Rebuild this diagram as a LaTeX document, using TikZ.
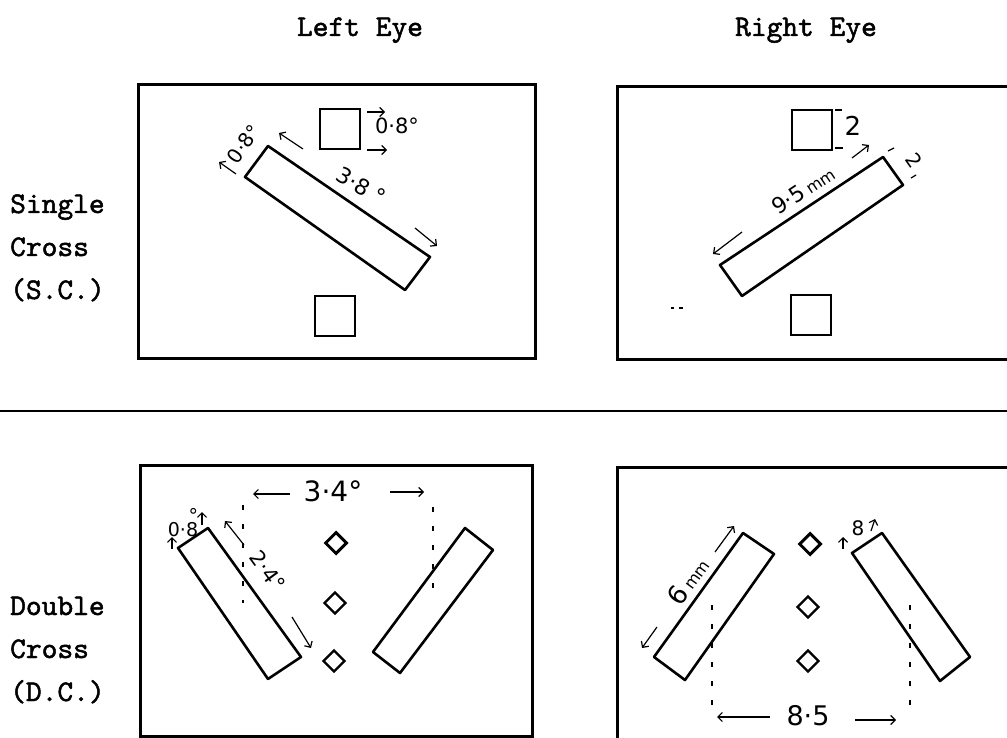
\documentclass[tikz,border=0pt]{standalone}
\usepackage{fontspec}
\newfontfamily\hand{DejaVu Sans}
\newfontfamily\typew{lmmono10-regular.otf}[FakeBold=1.6]
\usetikzlibrary{arrows.meta,shapes.geometric}
\begin{document}
\begin{tikzpicture}[x=1pt,y=-1pt,
  frame/.style={line width=3pt},
  shp/.style={line width=2.6pt,line join=round},
  sq/.style={draw,line width=2.8pt,rectangle,inner sep=0,minimum size=40pt},
  dmd/.style={draw,line width=2.4pt,diamond,inner sep=0,minimum size=22pt},
  dim/.style={line width=1.2pt,-{Straight Barb[length=4.5pt,width=9pt]}},
  tick/.style={line width=1.2pt},
  guide/.style={line width=1.1pt,dash pattern=on 5pt off 14pt},
  hw/.style={font=\hand\fontsize{#1}{#1}\selectfont,inner sep=0},
  tw/.style={font=\typew\fontsize{30}{30}\selectfont,inner sep=0}]
\useasboundingbox (0,0) rectangle (1007,738);

% headings
\node[tw,anchor=base] (hl) at (360,36) {Left Eye};
\node[tw,anchor=base] (hr) at (806,36) {Right Eye};
\node[tw,anchor=base west] (s1) at (10,213) {Single};
\node[tw,anchor=base west] (s2) at (10,256) {Cross};
\node[tw,anchor=base west] (s3) at (10,299) {(S.C.)};
\node[tw,anchor=base west] (d1) at (10,615) {Double};
\node[tw,anchor=base west] (d2) at (10,658) {Cross};
\node[tw,anchor=base west] (d3) at (10,701) {(D.C.)};

% separator
\draw[line width=2.2pt] (0,411) -- (1007,411);

% ---------- top-left panel
\draw[frame] (138,85) rectangle (535,358);
\node[sq] (tlsq1) at (340,129) {};
\node[sq] (tlsq2) at (335,316) {};
\coordinate (ta) at (268,146); \coordinate (tb) at (430,257);
\coordinate (tc) at (405,290); \coordinate (td) at (245,177);
\draw[shp] (ta)--(tb)--(tc)--(td)--cycle;
\coordinate (a1s) at (367,112); \coordinate (a1e) at (385,112);
\coordinate (a2s) at (367,150); \coordinate (a2e) at (387,150);
\draw[dim] (a1s)--(a1e); \draw[dim] (a2s)--(a2e);
\node[hw=21] (tl08) at (397,126) {0·8°};
\coordinate (a3s) at (303,149); \coordinate (a3e) at (279,133);
\draw[dim] (a3s)--(a3e);
\coordinate (a4s) at (415,228); \coordinate (a4e) at (437,246);
\draw[dim] (a4s)--(a4e);
\node[hw=22,rotate=-30] (tl38) at (361,186) {3·8 °};
\node[hw=20,rotate=55] (tlw) at (244,144) {0·8°};
\coordinate (a5s) at (236,174); \coordinate (a5e) at (219,162);
\draw[dim] (a5s)--(a5e);

% ---------- top-right panel
\draw[frame] (1012,87) -- (617,87) -- (617,359) -- (1012,359);
\node[sq] (trsq1) at (812,130) {};
\node[sq] (trsq2) at (811,315) {};
\coordinate (ra) at (720,265); \coordinate (rb) at (883,157);
\coordinate (rc) at (903,185); \coordinate (rd) at (742,296);
\draw[shp] (ra)--(rb)--(rc)--(rd)--cycle;
\coordinate (t1s) at (835,110); \coordinate (t1e) at (842,110);
\coordinate (t2s) at (835,148); \coordinate (t2e) at (843,148);
\draw[tick] (t1s)--(t1e); \draw[tick] (t2s)--(t2e);
\node[hw=26] (tr2) at (853,126) {2};
\node[hw=22,rotate=33.5] (tr95) at (803,190) {9·5\,{\fontsize{16}{16}\selectfont mm}};
\coordinate (b1s) at (852,158); \coordinate (b1e) at (869,145);
\draw[dim] (b1s)--(b1e);
\coordinate (b2s) at (742,232); \coordinate (b2e) at (713,254);
\draw[dim] (b2s)--(b2e);
\coordinate (t3s) at (888,151); \coordinate (t3e) at (894,148);
\coordinate (t4s) at (911,178); \coordinate (t4e) at (916,175);
\draw[tick] (t3s)--(t3e); \draw[tick] (t4s)--(t4e);
\node[hw=20,rotate=-55] (tr2b) at (914,160) {2};
\coordinate (x1s) at (671,308); \coordinate (x1e) at (674,308);
\coordinate (x2s) at (679,308); \coordinate (x2e) at (683,308);
\draw[tick] (x1s)--(x1e); \draw[tick] (x2s)--(x2e);

% ---------- bottom-left panel
\draw[frame] (140,465) rectangle (532,736);
\coordinate (la) at (178,548); \coordinate (lb) at (208,528);
\coordinate (lc) at (301,657); \coordinate (ld) at (268,679);
\draw[shp] (la)--(lb)--(lc)--(ld)--cycle;
\coordinate (ma) at (465,528); \coordinate (mb) at (493,550);
\coordinate (mc) at (400,673); \coordinate (md) at (373,652);
\draw[shp] (ma)--(mb)--(mc)--(md)--cycle;
\node[dmd,line width=3pt] (bld1) at (336,543) {};
\node[dmd] (bld2) at (335,603) {};
\node[dmd] (bld3) at (334,661) {};
\coordinate (g1s) at (243,505); \coordinate (g1e) at (243,603);
\coordinate (g2s) at (433,507); \coordinate (g2e) at (433,602);
\draw[guide] (g1s)--(g1e); \draw[guide] (g2s)--(g2e);
\node[hw=28] (bl34) at (333,491) {3·4°};
\coordinate (c1s) at (290,494); \coordinate (c1e) at (253,494);
\coordinate (c2s) at (390,492); \coordinate (c2e) at (424,492);
\draw[dim] (c1s)--(c1e); \draw[dim] (c2s)--(c2e);
\node[hw=19] (bl08) at (183,523) {0·8\llap{\raisebox{14pt}{°}}};
\coordinate (h1s) at (172,549); \coordinate (h1e) at (172,537);
\coordinate (h2s) at (202,525); \coordinate (h2e) at (202,512);
\draw[dim] (h1s)--(h1e); \draw[dim] (h2s)--(h2e);
\node[hw=21,rotate=-54] (bl24) at (268,571) {2·4°};
\coordinate (e1s) at (244,545); \coordinate (e1e) at (225,521);
\coordinate (e2s) at (292,617); \coordinate (e2e) at (311,648);
\draw[dim] (e1s)--(e1e); \draw[dim] (e2s)--(e2e);

% ---------- bottom-right panel
\draw[frame] (1012,467) -- (617,467) -- (617,741);
\coordinate (pa) at (743,533); \coordinate (pb) at (774,554);
\coordinate (pc) at (685,680); \coordinate (pd) at (654,657);
\draw[shp] (pa)--(pb)--(pc)--(pd)--cycle;
\coordinate (qa) at (852,553); \coordinate (qb) at (882,533);
\coordinate (qc) at (970,657); \coordinate (qd) at (940,681);
\draw[shp] (qa)--(qb)--(qc)--(qd)--cycle;
\node[dmd,line width=3pt] (brd1) at (810,544) {};
\node[dmd] (brd2) at (808,607) {};
\node[dmd] (brd3) at (808,661) {};
\node[hw=26,rotate=54] (br6) at (688,581) {6\,{\fontsize{16}{16}\selectfont mm}};
\coordinate (f1s) at (715,552); \coordinate (f1e) at (734,526);
\coordinate (f2s) at (657,627); \coordinate (f2e) at (642,648);
\draw[dim] (f1s)--(f1e); \draw[dim] (f2s)--(f2e);
\coordinate (k1s) at (712,605); \coordinate (k1e) at (712,712);
\coordinate (k2s) at (910,605); \coordinate (k2e) at (910,718);
\draw[guide] (k1s)--(k1e); \draw[guide] (k2s)--(k2e);
\node[hw=27] (br85) at (808,716) {8·5};
\coordinate (j1s) at (770,717); \coordinate (j1e) at (717,717);
\coordinate (j2s) at (855,720); \coordinate (j2e) at (896,720);
\draw[dim] (j1s)--(j1e); \draw[dim] (j2s)--(j2e);
\node[hw=20] (br8) at (858,528) {8};
\coordinate (m1s) at (843,549); \coordinate (m1e) at (843,537);
\coordinate (m2s) at (871,531); \coordinate (m2e) at (875,519);
\draw[dim] (m1s)--(m1e); \draw[dim] (m2s)--(m2e);
\end{tikzpicture}
\end{document}
